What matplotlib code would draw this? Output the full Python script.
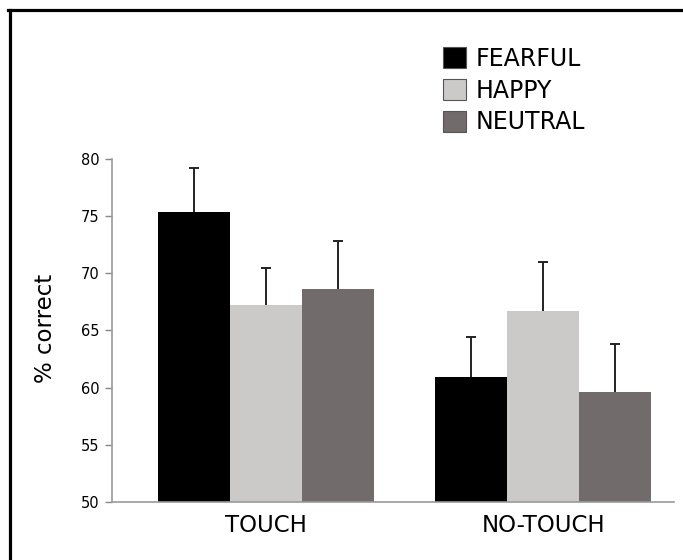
import matplotlib
matplotlib.use("Agg")
import matplotlib.pyplot as plt
from matplotlib.lines import Line2D
import numpy as np

conditions = ["TOUCH", "NO-TOUCH"]
emotions = ["FEARFUL", "HAPPY", "NEUTRAL"]
means = {
    "FEARFUL": [75.4, 60.9],
    "HAPPY": [67.2, 66.7],
    "NEUTRAL": [68.6, 59.6],
}
errors = {
    "FEARFUL": [3.8, 3.5],
    "HAPPY": [3.3, 4.3],
    "NEUTRAL": [4.2, 4.2],
}
colors = {"FEARFUL": "#000000", "HAPPY": "#ccc9c9", "NEUTRAL": "#716c6b"}
yticks = [50, 55, 60, 65, 70, 75, 80]

fig = plt.figure(figsize=(6.83, 5.60), dpi=100)
ax = fig.add_axes([0.164, 0.1036, 0.823, 0.6125])

x = np.arange(len(conditions))
width = 0.26
cap = 0.018
for i, emo in enumerate(emotions):
    pos = x + (i - 1) * width
    m = np.array(means[emo])
    e = np.array(errors[emo])
    ax.bar(pos, m, width=width, bottom=0, color=colors[emo],
           label=emo, zorder=2)
    # upper error bars only, with a cap at the top
    ax.vlines(pos, m, m + e, color="#222222", linewidth=1.4, zorder=3)
    ax.hlines(m + e, pos - cap, pos + cap, color="#222222", linewidth=1.4,
              zorder=3)

ax.set_ylim(50, 80)
ax.set_xlim(-0.556, 1.473)
ax.set_yticks(yticks)
ax.set_yticklabels([str(t) for t in yticks], fontsize=10.5)
ax.set_xticks(x)
ax.set_xticklabels(conditions, fontsize=16.5)
ax.tick_params(axis="x", length=0, pad=9)
ax.tick_params(axis="y", length=5, color="#888888", width=1, pad=4)

for side in ("top", "right"):
    ax.spines[side].set_visible(False)
for side in ("left", "bottom"):
    ax.spines[side].set_color("#999999")
    ax.spines[side].set_linewidth(1.2)

fig.text(46 / 683, 1 - 328 / 560, "% correct", rotation=90,
         ha="center", va="center", fontsize=16.5)

handles = [plt.Rectangle((0, 0), 1, 1, facecolor=colors[e],
                         edgecolor="#555555", linewidth=0.8) for e in emotions]
fig.legend(handles, emotions, loc="upper left",
           bbox_to_anchor=(431 / 683, 1 - 35 / 560), frameon=False,
           fontsize=17, handlelength=1.0, handleheight=1.0,
           handletextpad=0.4, labelspacing=0.33, borderpad=0)

# outer frame (left and top edges)
fig.add_artist(Line2D([9.5 / 683, 9.5 / 683], [0, 1 - 9.5 / 560],
                      transform=fig.transFigure, color="black", linewidth=2.3))
fig.add_artist(Line2D([8 / 683, 1], [1 - 9.5 / 560, 1 - 9.5 / 560],
                      transform=fig.transFigure, color="black", linewidth=2.3))

fig.savefig("out.png", dpi=100)
